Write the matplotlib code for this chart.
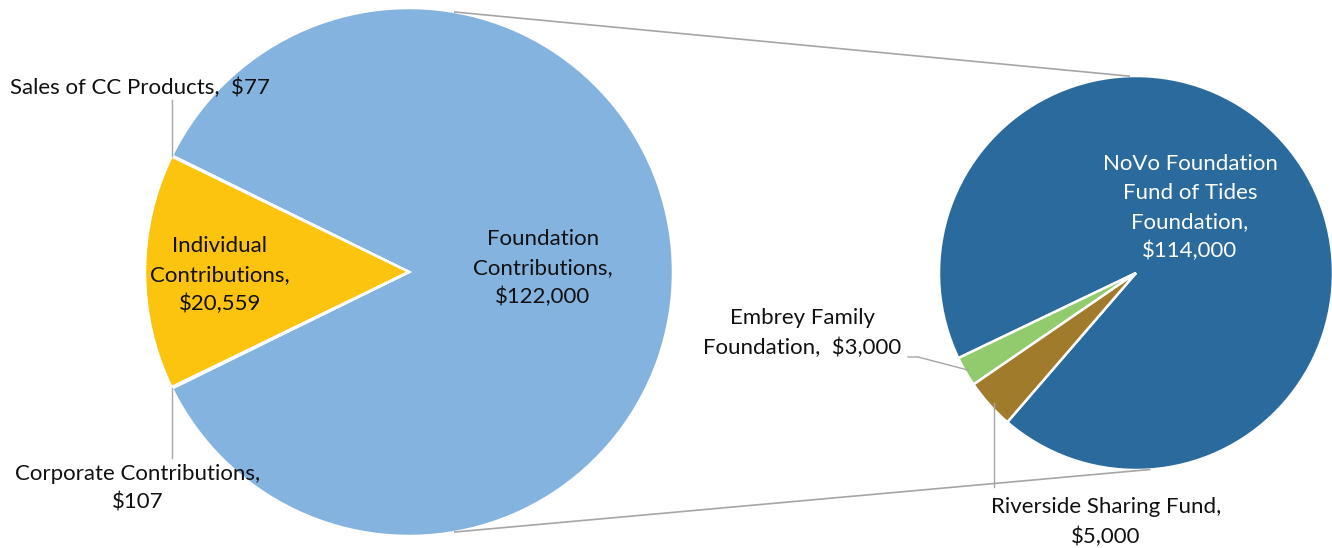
import numpy as np
import matplotlib.pyplot as plt

plt.rcParams['font.family'] = ['Lato', 'DejaVu Sans']

# main pie: income sources
main_labels = ['Foundation\nContributions,\n$122,000',
               'Sales of CC Products,  $77',
               'Individual\nContributions,\n$20,559',
               'Corporate Contributions,\n$107']
main_values = [122000, 77, 20559, 107]
main_colors = ['#85B3E0', '#85B3E0', '#FCC30F', '#85B3E0']

# second pie: breakdown of foundation contributions
sub_labels = ['NoVo Foundation\nFund of Tides\nFoundation,\n$114,000',
              'Embrey Family\nFoundation,  $3,000',
              'Riverside Sharing Fund,\n$5,000']
sub_values = [114000, 3000, 5000]
sub_colors = ['#2B6A9D', '#92CB6D', '#A07B2B']

W, H = 1332, 548
fig = plt.figure(figsize=(W / 100, H / 100), dpi=100)
ax = fig.add_axes([0, 0, 1, 1])

# geometry in pixel units (y up)
c1, r1 = (409, 276), 264
c2, r2 = (1136, 275), 197

tot1 = sum(main_values)
start1 = -main_values[0] / tot1 * 360 / 2
ax.pie(main_values, colors=main_colors, startangle=start1, counterclock=True,
       center=c1, radius=r1, wedgeprops=dict(edgecolor='white', linewidth=1.8))

tot2 = sum(sub_values)
start2 = 205.6 - sub_values[0] / tot2 * 360
ax.pie(sub_values, colors=sub_colors, startangle=start2, counterclock=True,
       center=c2, radius=r2, wedgeprops=dict(edgecolor='white', linewidth=1.8))


def on_circle(c, r, deg):
    a = np.deg2rad(deg)
    return c[0] + r * np.cos(a), c[1] + r * np.sin(a)


lc = '#A6A6A6'
# connector lines between the two pies
p1, p2 = on_circle(c1, r1, 80), on_circle(c2, r2, 92)
ax.plot([p1[0], p2[0]], [p1[1], p2[1]], color=lc, lw=1.2)
p1, p2 = on_circle(c1, r1, -80), on_circle(c2, r2, -86)
ax.plot([p1[0], p2[0]], [p1[1], p2[1]], color=lc, lw=1.2)

# leader lines for small slices
b_sales = on_circle(c1, r1, start1 + main_values[0] / tot1 * 360)
ax.plot([b_sales[0], b_sales[0]], [b_sales[1], H - 100], color=lc, lw=1)
b_corp = on_circle(c1, r1, start1 + 360)
ax.plot([b_corp[0], b_corp[0]], [b_corp[1], H - 458], color=lc, lw=1)

ang_emb = start2 + (sub_values[0] + sub_values[1] / 2) / tot2 * 360
e = on_circle(c2, r2 - 3, ang_emb)
ax.plot([908, 918, e[0]], [H - 357, H - 357, e[1]], color=lc, lw=1)
ang_riv = start2 + (sub_values[0] + sub_values[1] + sub_values[2] / 2) / tot2 * 360
rv = on_circle(c2, r2 - 2, ang_riv)
ax.plot([rv[0] + 3, rv[0] + 3], [rv[1], H - 487], color=lc, lw=1)

fs = 16
tk = dict(fontsize=fs, color='#111111', linespacing=1.55)
ax.text(543, H - 268, main_labels[0], ha='center', va='center', **tk)
ax.text(10, H - 88, main_labels[1], ha='left', va='center', **tk)
ax.text(220, H - 275, main_labels[2], ha='center', va='center', **tk)
ax.text(138, H - 488, main_labels[3], ha='center', va='center', **tk)

ax.text(1190, H - 208, sub_labels[0], ha='center', va='center',
        fontsize=fs, color='white', linespacing=1.55)
ax.text(802, H - 333, sub_labels[1], ha='center', va='center', **tk)
ax.text(1106, H - 522, sub_labels[2], ha='center', va='center', **tk)

ax.set_xlim(0, W)
ax.set_ylim(0, H)
ax.set_aspect('auto')
ax.axis('off')

fig.savefig('out.png', dpi=100, facecolor='white')
